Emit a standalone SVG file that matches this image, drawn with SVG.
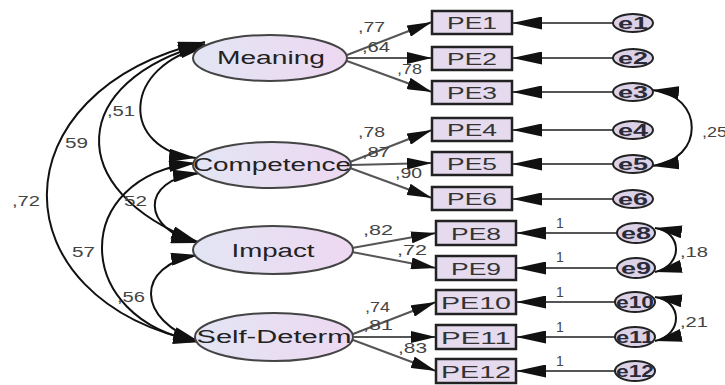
<svg xmlns="http://www.w3.org/2000/svg" width="725" height="385" viewBox="0 0 725 385">
  <defs>
    <linearGradient id="latentFill" x1="0" y1="0" x2="1" y2="0">
      <stop offset="0" stop-color="#e2e5f4"/>
      <stop offset="1" stop-color="#eed8f1"/>
    </linearGradient>
    <marker id="head" markerUnits="userSpaceOnUse" markerWidth="28" markerHeight="13" refX="27" refY="6.5" orient="auto-start-reverse">
      <path d="M0,0 L27,6.5 L0,13 Z" fill="#111"/>
    </marker>
    <marker id="headLoad" markerUnits="userSpaceOnUse" markerWidth="26" markerHeight="12" refX="25" refY="6" orient="auto">
      <path d="M0,0 L25,6 L0,12 Z" fill="#111"/>
    </marker>
    <marker id="headLong" markerUnits="userSpaceOnUse" markerWidth="32" markerHeight="13" refX="30" refY="6.5" orient="auto">
      <path d="M0,0 L30,6.5 L0,13 Z" fill="#111"/>
    </marker>
    <style>
      .latent ellipse { fill: url(#latentFill); stroke: #444; stroke-width: 2; }
      .latent text { font-family: "Liberation Sans", Arial, sans-serif; font-size: 18px; fill: #222; text-anchor: middle; }
      .obs rect { fill: #e6dbee; stroke: #222; stroke-width: 2.5; }
      .obs text { font-family: "Liberation Sans", Arial, sans-serif; font-size: 17px; fill: #333; text-anchor: middle; }
      .err ellipse { fill: #dcd2e8; stroke: #222; stroke-width: 2; }
      .err text { font-family: "Liberation Sans", Arial, sans-serif; font-size: 16px; font-weight: bold; fill: #2a2a38; text-anchor: middle; }
      .cov path { fill: none; stroke: #111; stroke-width: 2; marker-start: url(#head); marker-end: url(#head); }
      .load line { stroke: #555; stroke-width: 2; marker-end: url(#headLoad); }
      .res line { stroke: #555; stroke-width: 2; marker-end: url(#headLong); }
      .lbl { font-family: "Liberation Sans", Arial, sans-serif; font-size: 14px; fill: #444; }
    </style>
  </defs>
  <rect width="725" height="385" fill="#fff"/>

  <g id="connectors">
    <!-- factor covariances -->
    <g class="cov">
      <path d="M200,342 C-5,300 -5,90 205,42"/>
      <path d="M198,242 C60,190 70,80 205,44"/>
      <path d="M196,158 C120,150 120,65 207,46"/>
      <path d="M198,243 C142,230 138,180 200,173"/>
      <path d="M200,342 C70,320 70,175 196,163"/>
      <path d="M200,342 C135,320 135,265 198,255"/>
      <!-- residual covariances -->
      <path d="M652,90 C705,95 705,160 652,166"/>
      <path d="M655,228 C683,232 683,266 655,272"/>
      <path d="M655,297 C683,301 683,335 655,341"/>
    </g>
    <!-- loadings -->
    <g class="load">
      <line x1="347" y1="55" x2="432" y2="22"/>
      <line x1="348" y1="58" x2="432" y2="58"/>
      <line x1="347" y1="61" x2="432" y2="92"/>
      <line x1="350" y1="162" x2="432" y2="130"/>
      <line x1="351" y1="165" x2="432" y2="163"/>
      <line x1="350" y1="168" x2="432" y2="198"/>
      <line x1="352" y1="248" x2="436" y2="233"/>
      <line x1="352" y1="252" x2="436" y2="268"/>
      <line x1="353" y1="334" x2="436" y2="302"/>
      <line x1="354" y1="337" x2="436" y2="337"/>
      <line x1="353" y1="340" x2="436" y2="371"/>
    </g>
    <!-- residual paths -->
    <g class="res">
      <line x1="613" y1="23" x2="512" y2="23"/>
      <line x1="613" y1="58" x2="512" y2="58"/>
      <line x1="613" y1="92" x2="512" y2="92"/>
      <line x1="613" y1="130" x2="512" y2="130"/>
      <line x1="613" y1="164" x2="512" y2="164"/>
      <line x1="613" y1="199" x2="512" y2="199"/>
      <line x1="617" y1="233" x2="516" y2="233"/>
      <line x1="617" y1="268" x2="516" y2="268"/>
      <line x1="616" y1="302" x2="516" y2="302"/>
      <line x1="616" y1="337" x2="516" y2="337"/>
      <line x1="616" y1="371" x2="516" y2="371"/>
    </g>
    <!-- path coefficients -->
    <g class="lbl">
      <text x="358" y="32" textLength="27" lengthAdjust="spacingAndGlyphs">,77</text>
      <text x="362" y="52" textLength="28" lengthAdjust="spacingAndGlyphs">,64</text>
      <text x="397" y="74" textLength="25" lengthAdjust="spacingAndGlyphs">,78</text>
      <text x="358" y="137" textLength="27" lengthAdjust="spacingAndGlyphs">,78</text>
      <text x="362" y="157" textLength="28" lengthAdjust="spacingAndGlyphs">,87</text>
      <text x="395" y="178" textLength="27" lengthAdjust="spacingAndGlyphs">,90</text>
      <text x="363" y="235" textLength="30" lengthAdjust="spacingAndGlyphs">,82</text>
      <text x="397" y="255" textLength="30" lengthAdjust="spacingAndGlyphs">,72</text>
      <text x="365" y="312" textLength="25" lengthAdjust="spacingAndGlyphs">,74</text>
      <text x="363" y="330" textLength="30" lengthAdjust="spacingAndGlyphs">,81</text>
      <text x="398" y="353" textLength="29" lengthAdjust="spacingAndGlyphs">,83</text>
      <text x="107" y="116" textLength="28" lengthAdjust="spacingAndGlyphs">,51</text>
      <text x="65" y="148" textLength="23" lengthAdjust="spacingAndGlyphs">59</text>
      <text x="12" y="206" textLength="28" lengthAdjust="spacingAndGlyphs">,72</text>
      <text x="124" y="206" textLength="23" lengthAdjust="spacingAndGlyphs">52</text>
      <text x="72" y="257" textLength="23" lengthAdjust="spacingAndGlyphs">57</text>
      <text x="117" y="302" textLength="28" lengthAdjust="spacingAndGlyphs">,56</text>
      <text x="702" y="137" textLength="25" lengthAdjust="spacingAndGlyphs">,25</text>
      <text x="680" y="257" textLength="28" lengthAdjust="spacingAndGlyphs">,18</text>
      <text x="680" y="327" textLength="28" lengthAdjust="spacingAndGlyphs">,21</text>
      <text x="556" y="228">1</text>
      <text x="556" y="262">1</text>
      <text x="556" y="297">1</text>
      <text x="556" y="332">1</text>
      <text x="556" y="366">1</text>
    </g>
  </g>

  <!-- latent factors -->
  <g id="meaning" class="latent">
    <ellipse cx="270" cy="58" rx="77" ry="23"/>
    <text x="271" y="64" textLength="108" lengthAdjust="spacingAndGlyphs">Meaning</text>
  </g>
  <g id="competence" class="latent">
    <ellipse cx="272" cy="165" rx="79" ry="23"/>
    <text x="272" y="171" textLength="158" lengthAdjust="spacingAndGlyphs">Competence</text>
  </g>
  <g id="impact" class="latent">
    <ellipse cx="273" cy="250" rx="80" ry="24"/>
    <text x="273" y="257" textLength="83" lengthAdjust="spacingAndGlyphs">Impact</text>
  </g>
  <g id="self-determ" class="latent">
    <ellipse cx="274" cy="337" rx="79" ry="24"/>
    <text x="274" y="343" textLength="155" lengthAdjust="spacingAndGlyphs">Self-Determ</text>
  </g>

  <!-- observed indicators -->
  <g id="pe1" class="obs"><rect x="432" y="11" width="80" height="23"/><text x="472" y="29" textLength="50" lengthAdjust="spacingAndGlyphs">PE1</text></g>
  <g id="pe2" class="obs"><rect x="432" y="47" width="80" height="23"/><text x="472" y="65" textLength="50" lengthAdjust="spacingAndGlyphs">PE2</text></g>
  <g id="pe3" class="obs"><rect x="432" y="81" width="80" height="23"/><text x="472" y="99" textLength="50" lengthAdjust="spacingAndGlyphs">PE3</text></g>
  <g id="pe4" class="obs"><rect x="432" y="118" width="80" height="23"/><text x="472" y="136" textLength="50" lengthAdjust="spacingAndGlyphs">PE4</text></g>
  <g id="pe5" class="obs"><rect x="432" y="152" width="80" height="23"/><text x="472" y="170" textLength="50" lengthAdjust="spacingAndGlyphs">PE5</text></g>
  <g id="pe6" class="obs"><rect x="432" y="187" width="80" height="23"/><text x="472" y="205" textLength="50" lengthAdjust="spacingAndGlyphs">PE6</text></g>
  <g id="pe8" class="obs"><rect x="436" y="221" width="80" height="24"/><text x="476" y="240" textLength="50" lengthAdjust="spacingAndGlyphs">PE8</text></g>
  <g id="pe9" class="obs"><rect x="436" y="256" width="80" height="24"/><text x="476" y="275" textLength="50" lengthAdjust="spacingAndGlyphs">PE9</text></g>
  <g id="pe10" class="obs"><rect x="436" y="290" width="80" height="24"/><text x="476" y="309" textLength="70" lengthAdjust="spacingAndGlyphs">PE10</text></g>
  <g id="pe11" class="obs"><rect x="436" y="325" width="80" height="24"/><text x="476" y="344" textLength="70" lengthAdjust="spacingAndGlyphs">PE11</text></g>
  <g id="pe12" class="obs"><rect x="436" y="359" width="80" height="24"/><text x="476" y="378" textLength="70" lengthAdjust="spacingAndGlyphs">PE12</text></g>

  <!-- error terms -->
  <g id="e1" class="err"><ellipse cx="633" cy="23" rx="20" ry="9"/><text x="633" y="29" textLength="30" lengthAdjust="spacingAndGlyphs">e1</text></g>
  <g id="e2" class="err"><ellipse cx="633" cy="58" rx="20" ry="9"/><text x="633" y="64" textLength="30" lengthAdjust="spacingAndGlyphs">e2</text></g>
  <g id="e3" class="err"><ellipse cx="633" cy="92" rx="20" ry="9"/><text x="633" y="98" textLength="30" lengthAdjust="spacingAndGlyphs">e3</text></g>
  <g id="e4" class="err"><ellipse cx="633" cy="130" rx="20" ry="9"/><text x="633" y="136" textLength="30" lengthAdjust="spacingAndGlyphs">e4</text></g>
  <g id="e5" class="err"><ellipse cx="633" cy="164" rx="20" ry="9"/><text x="633" y="170" textLength="30" lengthAdjust="spacingAndGlyphs">e5</text></g>
  <g id="e6" class="err"><ellipse cx="633" cy="199" rx="20" ry="9"/><text x="633" y="205" textLength="30" lengthAdjust="spacingAndGlyphs">e6</text></g>
  <g id="e8" class="err"><ellipse cx="636" cy="233" rx="19" ry="10"/><text x="636" y="239" textLength="30" lengthAdjust="spacingAndGlyphs">e8</text></g>
  <g id="e9" class="err"><ellipse cx="636" cy="268" rx="19" ry="10"/><text x="636" y="274" textLength="30" lengthAdjust="spacingAndGlyphs">e9</text></g>
  <g id="e10" class="err"><ellipse cx="635" cy="302" rx="20" ry="10"/><text x="635" y="308" textLength="38" lengthAdjust="spacingAndGlyphs">e10</text></g>
  <g id="e11" class="err"><ellipse cx="635" cy="337" rx="20" ry="10"/><text x="635" y="343" textLength="38" lengthAdjust="spacingAndGlyphs">e11</text></g>
  <g id="e12" class="err"><ellipse cx="635" cy="371" rx="20" ry="10"/><text x="635" y="377" textLength="38" lengthAdjust="spacingAndGlyphs">e12</text></g>
</svg>
